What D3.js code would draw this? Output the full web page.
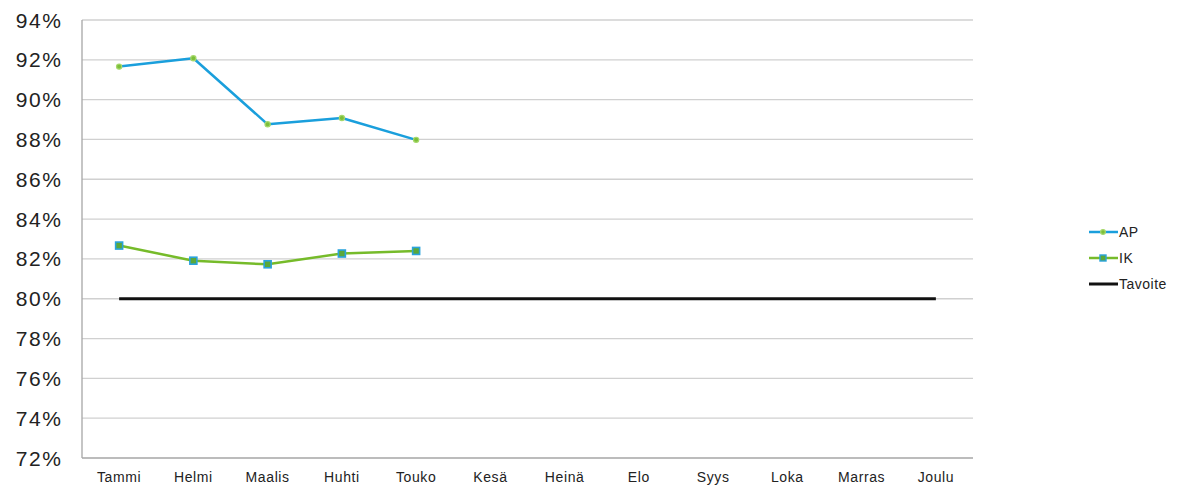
<!DOCTYPE html>
<html><head><meta charset="utf-8">
<script src="https://cdn.jsdelivr.net/npm/d3@7"></script>
<style>body{margin:0;background:#fff;}svg{display:block;font-family:"Liberation Sans",Arial,sans-serif;}</style>
</head><body>
<svg id="c" width="1182" height="488"></svg>
<script>
const months = ["Tammi","Helmi","Maalis","Huhti","Touko","Kesä","Heinä","Elo","Syys","Loka","Marras","Joulu"];
const apValues = [91.66, 92.08, 88.76, 89.08, 87.98];
const ikValues = [82.67, 81.91, 81.73, 82.27, 82.40];
const tavoiteValues = [80,80,80,80,80,80,80,80,80,80,80,80];
const yTicks = [72,74,76,78,80,82,84,86,88,90,92,94];
const seriesNames = ["AP","IK","Tavoite"];

(function(){
const svg = d3.select("#c");
const pL = 82, pR = 973, pT = 20, pB = 458;
const x = d3.scaleBand().domain(months).range([pL, pR]);
const y = d3.scaleLinear().domain([72, 94]).range([pB, pT]);
const cx = m => x(m) + x.bandwidth()/2;

svg.append("g").selectAll("line").data(yTicks.filter(t => t > 72)).join("line")
  .attr("x1", pL).attr("x2", pR).attr("y1", d => y(d)).attr("y2", d => y(d))
  .attr("stroke", "#d0d0d0").attr("stroke-width", 1.3);

svg.append("line").attr("x1", pL).attr("x2", pL).attr("y1", pT).attr("y2", pB)
  .attr("stroke", "#a6a6a6").attr("stroke-width", 1.3);
svg.append("line").attr("x1", pL).attr("x2", pR).attr("y1", pB).attr("y2", pB)
  .attr("stroke", "#a6a6a6").attr("stroke-width", 1.3);

svg.append("g").selectAll("text").data(yTicks).join("text")
  .attr("x", 62.5).attr("y", d => y(d)).attr("dy", "0.36em")
  .attr("text-anchor", "end").attr("font-size", 21).attr("letter-spacing", 1.6).attr("fill", "#222")
  .text(d => d + "%");

svg.append("g").selectAll("text").data(months).join("text")
  .attr("x", d => cx(d)).attr("y", 477).attr("dy", "0.35em")
  .attr("text-anchor", "middle").attr("font-size", 14).attr("letter-spacing", 0.6).attr("fill", "#222")
  .text(d => d);

const line = d3.line().x((d,i) => cx(months[i])).y(d => y(d));

svg.append("path").datum(tavoiteValues).attr("d", line)
  .attr("fill", "none").attr("stroke", "#111").attr("stroke-width", 3.2);

const apColor = "#1a9fdc", apMarker = "#a6d86a";
svg.append("path").datum(apValues).attr("d", line)
  .attr("fill", "none").attr("stroke", apColor).attr("stroke-width", 2.5).attr("stroke-linejoin","round");
svg.append("g").selectAll("circle").data(apValues).join("circle")
  .attr("cx", (d,i) => cx(months[i])).attr("cy", d => y(d)).attr("r", 2.6)
  .attr("fill", "#7cbf3a").attr("stroke", apMarker).attr("stroke-width", 1.2);

const ikColor = "#76bb2a";
svg.append("path").datum(ikValues).attr("d", line)
  .attr("fill", "none").attr("stroke", ikColor).attr("stroke-width", 2.5).attr("stroke-linejoin","round");
svg.append("g").selectAll("rect").data(ikValues).join("rect")
  .attr("x", (d,i) => cx(months[i]) - 3.5).attr("y", d => y(d) - 3.5)
  .attr("width", 7).attr("height", 7)
  .attr("fill", "#5aa83a").attr("stroke", "#2aa3dc").attr("stroke-width", 1.6);

const lg = svg.append("g");
const ly = [232, 258, 284];
seriesNames.forEach((n, i) => {
  const g = lg.append("g");
  const col = i === 0 ? apColor : i === 1 ? ikColor : "#111";
  g.append("line").attr("x1", 1089).attr("x2", 1118).attr("y1", ly[i]).attr("y2", ly[i])
    .attr("stroke", col).attr("stroke-width", i === 2 ? 3 : 2.5);
  if (i === 0) g.append("circle").attr("cx", 1103).attr("cy", ly[i]).attr("r", 2.4)
    .attr("fill", "#7cbf3a").attr("stroke", apMarker).attr("stroke-width", 1.2);
  if (i === 1) g.append("rect").attr("x", 1100).attr("y", ly[i]-3).attr("width", 6).attr("height", 6)
    .attr("fill", "#5aa83a").attr("stroke", "#2aa3dc").attr("stroke-width", 1.4);
  g.append("text").attr("x", 1119).attr("y", ly[i]).attr("dy", "0.35em")
    .attr("font-size", 14).attr("letter-spacing", 0.5).attr("fill", "#222").text(n);
});
})();
</script>
</body></html>
